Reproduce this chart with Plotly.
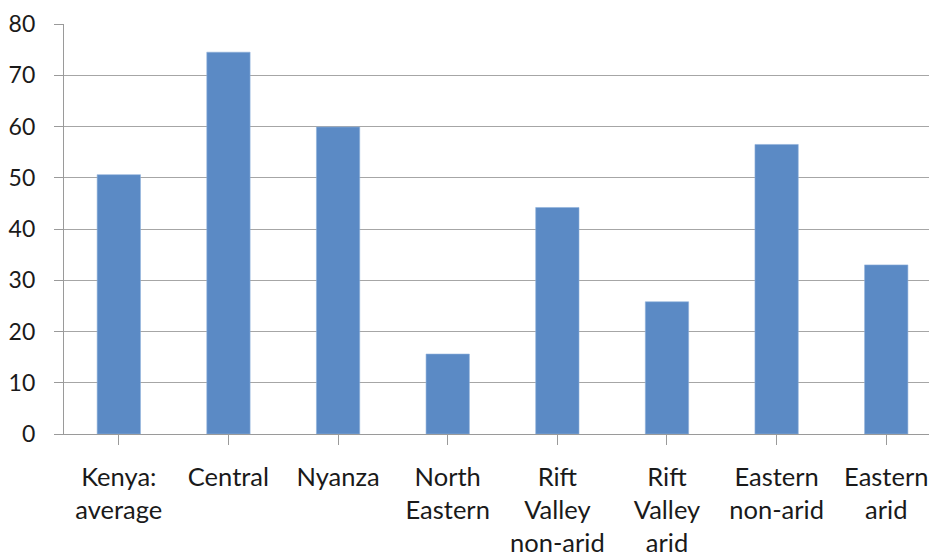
import plotly.graph_objects as go

categories = ["Kenya:<br>average", "Central", "Nyanza", "North<br>Eastern",
              "Rift<br>Valley<br>non-arid", "Rift<br>Valley<br>arid",
              "Eastern<br>non-arid", "Eastern<br>arid"]
values = [50.6, 74.5, 59.9, 15.6, 44.2, 25.8, 56.5, 33.0]
y_ticks = [0, 10, 20, 30, 40, 50, 60, 70, 80]

fig = go.Figure()
fig.add_trace(go.Bar(
    x=list(range(len(categories))), y=values,
    marker=dict(color="#5B8AC5", line=dict(color="#8FB0DA", width=0.6)),
    width=0.395,
))

fig.update_layout(
    width=929, height=557,
    margin=dict(l=64, r=0, t=24, b=123),
    paper_bgcolor="white", plot_bgcolor="white",
    font=dict(family="Lato, 'Open Sans', sans-serif", size=23, color="#1a1a1a"),
    showlegend=False,
    xaxis=dict(
        tickmode="array", tickvals=list(range(len(categories))), ticktext=categories,
        range=[-0.5, 7.39],
        showgrid=False, showline=True, linecolor="#9A9A9A", linewidth=1.3,
        ticks="outside", ticklen=10, tickcolor="#9A9A9A", tickwidth=1.3,
        tickson="boundaries", tickfont=dict(size=25.5), ticklabelstandoff=10,
        zeroline=False, fixedrange=True,
    ),
    yaxis=dict(
        range=[0, 80], tickmode="array", tickvals=y_ticks,
        showgrid=True, gridcolor="#A6A6A6", gridwidth=1.3,
        showline=True, linecolor="#9A9A9A", linewidth=1.3,
        ticks="outside", ticklen=9, tickcolor="#9A9A9A", tickwidth=1.3,
        tickfont=dict(size=23), ticklabelstandoff=14,
        zeroline=False, fixedrange=True,
    ),
)

fig.write_html("out.html", config={"displayModeBar": False},
               post_script="document.documentElement.style.overflow='hidden';"
                           "document.body.style.margin='0';document.body.style.overflow='hidden';")
